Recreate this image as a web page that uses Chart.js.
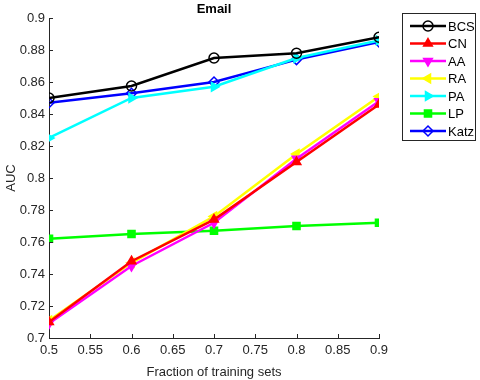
<!DOCTYPE html>
<html>
<head>
<meta charset="utf-8">
<script src="https://cdn.jsdelivr.net/npm/chart.js@4"></script>
<style>
  html, body { margin: 0; padding: 0; background: #fff; }
</style>
</head>
<body>
<canvas id="chart" width="480" height="380"></canvas>
<script>
// fraction of training sets
const fractions = [0.5, 0.6, 0.7, 0.8, 0.9];

// AUC per method
const bcs  = [0.850, 0.8575, 0.875, 0.878, 0.888];
const cn   = [0.710, 0.748, 0.774, 0.810, 0.846];
const aa   = [0.709, 0.745, 0.772, 0.812, 0.848];
const ra   = [0.711, 0.747, 0.776, 0.815, 0.851];
const pa   = [0.825, 0.850, 0.857, 0.875, 0.886];
const lp   = [0.762, 0.765, 0.767, 0.770, 0.772];
const katz = [0.847, 0.853, 0.860, 0.874, 0.885];

const chartTitle = 'Email';

const FONT = '"Liberation Sans", Arial, sans-serif';
const AXIS = '#262626';

function pts(values){
    return fractions.map((x, i) => ({x: x, y: values[i]}));
}

function series(label, values, color, style, rotation, fill){
    return {
        label: label,
        data: pts(values),
        borderColor: color,
        backgroundColor: fill,
        pointBorderColor: color,
        pointBackgroundColor: fill,
        borderWidth: 2.5,
        pointStyle: style,
        pointRotation: rotation,
        pointRadius: 5,
        pointBorderWidth: 1.5,
        tension: 0
    };
}

// matlab style ticks pointing into the plot, plus title centred over the axes
const innerTicks = {
    id: 'innerTicks',
    afterDatasetsDraw(chart){
        const ctx = chart.ctx;
        const a = chart.chartArea;
        const xs = chart.scales.x, ys = chart.scales.y;
        ctx.save();
        ctx.strokeStyle = AXIS;
        ctx.lineWidth = 1;
        ctx.beginPath();
        xs.ticks.forEach(t => {
            const px = Math.round(xs.getPixelForValue(t.value)) + 0.5;
            ctx.moveTo(px, a.bottom);
            ctx.lineTo(px, a.bottom - 4);
        });
        ys.ticks.forEach(t => {
            const py = Math.round(ys.getPixelForValue(t.value)) + 0.5;
            ctx.moveTo(a.left, py);
            ctx.lineTo(a.left + 4, py);
        });
        ctx.stroke();

        ctx.fillStyle = '#000';
        ctx.font = 'bold 13px ' + FONT;
        ctx.textAlign = 'center';
        ctx.textBaseline = 'bottom';
        ctx.fillText(chartTitle, (a.left + a.right) / 2, a.top - 2);
        ctx.restore();
    }
};

// boxed legend at the right, like matlab
const boxLegend = {
    id: 'boxLegend',
    afterDraw(chart){
        const ctx = chart.ctx;
        const x0 = 402, y0 = 13, w = 73, h = 127;
        ctx.save();
        ctx.fillStyle = '#fff';
        ctx.fillRect(x0, y0, w, h);
        ctx.strokeStyle = AXIS;
        ctx.lineWidth = 1;
        ctx.strokeRect(x0 + 0.5, y0 + 0.5, w, h);
        chart.data.datasets.forEach((ds, i) => {
            const y = y0 + 13 + i * 17.5;
            ctx.strokeStyle = ds.borderColor;
            ctx.lineWidth = 2.5;
            ctx.beginPath();
            ctx.moveTo(x0 + 8, y);
            ctx.lineTo(x0 + 44, y);
            ctx.stroke();
            ctx.lineWidth = 1.5;
            ctx.fillStyle = ds.pointBackgroundColor;
            ctx.strokeStyle = ds.pointBorderColor;
            Chart.helpers.drawPoint(ctx, {
                pointStyle: ds.pointStyle,
                rotation: ds.pointRotation,
                radius: 5,
                borderWidth: 1.5
            }, x0 + 26, y);
            ctx.fillStyle = '#000';
            ctx.font = '13px ' + FONT;
            ctx.textBaseline = 'middle';
            ctx.textAlign = 'left';
            ctx.fillText(ds.label, x0 + 46, y + 1);
        });
        ctx.restore();
    }
};

const ctx = document.getElementById('chart').getContext('2d');
const chart = new Chart(ctx, {
    type: 'line',
    data: {
        datasets: [
            series('BCS', bcs, '#000000', 'circle', 0, 'rgba(0,0,0,0)'),
            series('CN', cn, '#ff0000', 'triangle', 0, '#ff0000'),
            series('AA', aa, '#ff00ff', 'triangle', 180, '#ff00ff'),
            series('RA', ra, '#ffff00', 'triangle', -90, '#ffff00'),
            series('PA', pa, '#00ffff', 'triangle', 90, '#00ffff'),
            series('LP', lp, '#00ff00', 'rect', 0, '#00ff00'),
            series('Katz', katz, '#0000ff', 'rectRot', 0, 'rgba(0,0,0,0)')
        ]
    },
    options: {
        responsive: false,
        animation: false,
        layout: { padding: { left: 4, right: 101, top: 18, bottom: 0 } },
        plugins: {
            legend: { display: false },
            tooltip: { enabled: false },
            title: { display: false }
        },
        scales: {
            x: {
                type: 'linear',
                min: 0.5,
                max: 0.9,
                afterFit(scale){ scale.height = 42; },
                ticks: {
                    stepSize: 0.05,
                    color: AXIS,
                    font: { family: FONT, size: 13 },
                    padding: 5,
                    callback: v => +v.toFixed(2)
                },
                grid: { drawOnChartArea: false, drawTicks: false },
                border: { color: AXIS },
                title: {
                    display: true,
                    text: 'Fraction of training sets',
                    color: AXIS,
                    font: { family: FONT, size: 13 },
                    padding: { top: 1, bottom: 0 }
                }
            },
            y: {
                min: 0.7,
                max: 0.9,
                afterFit(scale){ scale.width = 45; },
                ticks: {
                    stepSize: 0.02,
                    color: AXIS,
                    font: { family: FONT, size: 13 },
                    padding: 4,
                    callback: v => +v.toFixed(2)
                },
                grid: { drawOnChartArea: false, drawTicks: false },
                border: { color: AXIS },
                title: {
                    display: true,
                    text: 'AUC',
                    color: AXIS,
                    font: { family: FONT, size: 13 },
                    padding: { top: 0, bottom: 0 }
                }
            }
        }
    },
    plugins: [innerTicks, boxLegend]
});
</script>
</body>
</html>
